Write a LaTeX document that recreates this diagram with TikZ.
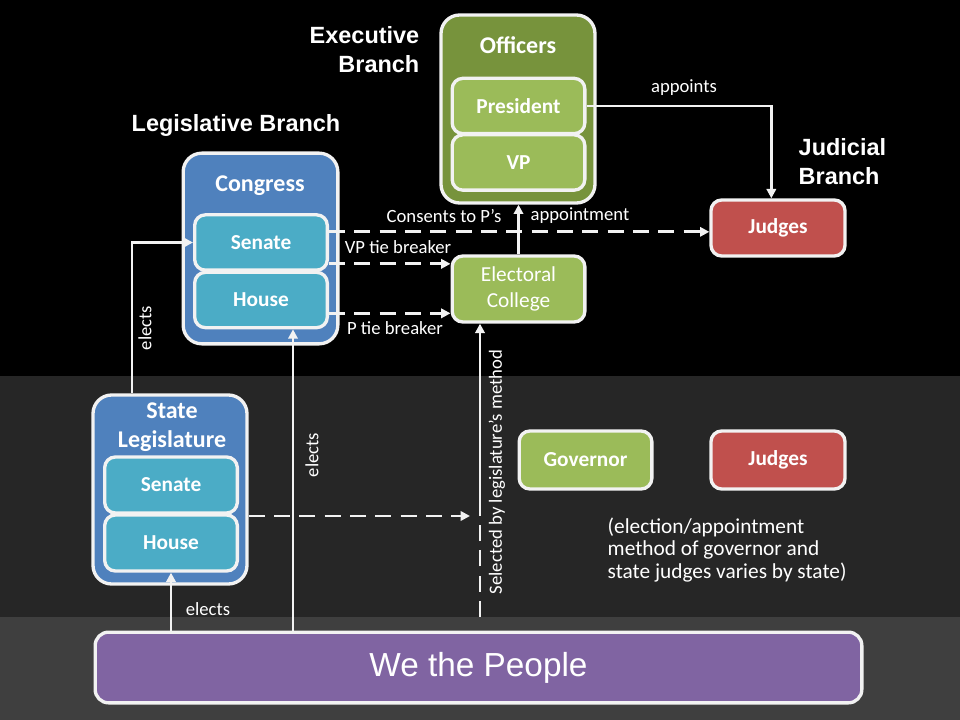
\documentclass[tikz,border=0pt]{standalone}
\usepackage{fontspec}
\setmainfont{Carlito}
\newfontfamily\arialfont{Liberation Sans}
\usetikzlibrary{arrows.meta}
\definecolor{bandmid}{HTML}{262626}
\definecolor{bandlow}{HTML}{3F3F3F}
\definecolor{execdark}{HTML}{77933C}
\definecolor{execlight}{HTML}{9BBB59}
\definecolor{legdark}{HTML}{4F81BD}
\definecolor{leglight}{HTML}{4BACC6}
\definecolor{judred}{HTML}{C0504D}
\definecolor{peoplepurple}{HTML}{8064A2}
\definecolor{rim}{HTML}{F2F2F2}
\begin{document}
\begin{tikzpicture}[x=0.75pt,y=-0.75pt,
	outerbox/.style={draw=rim, line width=2.5pt, rounded corners=14pt, inner sep=0pt, minimum width=115.5pt},
	innerbox/.style={draw=rim, line width=2.5pt, rounded corners=8pt, inner sep=0pt, text=white, font=\bfseries\fontsize{16}{19}\selectfont, minimum width=99.5pt, minimum height=41.5pt},
	boxtitle/.style={text=white, font=\bfseries\fontsize{18}{21.75}\selectfont},
	branchtitle/.style={text=white, font=\arialfont\bfseries\fontsize{17.6}{21.75}\selectfont},
	lbl/.style={text=white, font=\fontsize{14}{17}\selectfont},
	arr/.style={draw=rim, line width=2pt, -{Triangle[length=7pt,width=7pt]}},
	dashline/.style={draw=rim, line width=2pt, dash pattern=on 12pt off 7pt},
	dasharr/.style={arr, dash pattern=on 12pt off 7pt}]
				\fill[black] (0,0) rectangle (960,376);
				\fill[bandmid] (0,376) rectangle (960,617);
				\fill[bandlow] (0,617) rectangle (960,720);
				% executive branch
				\node[branchtitle, anchor=east, align=right] (exectitle) at (424,50) {Executive\\Branch};
				\node[outerbox, fill=execdark, minimum height=141pt] (off) at (518,109) {};
				\node[boxtitle] (offtitle) at (518,45) {Officers};
				\node[innerbox, fill=execlight] (pres) at (518.5,106) {President};
				\node[innerbox, fill=execlight] (vp) at (518.5,162.5) {VP};
				\node[innerbox, fill=execlight, font=\fontsize{16}{19.5}\selectfont, align=center, minimum height=49.5pt] (ec) at (518.5,289) {Electoral\\College};
				% legislative branch
				\node[branchtitle] (legtitle) at (236,125) {Legislative Branch};
				\node[outerbox, fill=legdark, minimum width=116pt, minimum height=143pt] (cong) at (260.5,248.5) {};
				\node[boxtitle] (congtitle) at (260,186) {Congress};
				\node[innerbox, fill=leglight] (csen) at (261,242.5) {Senate};
				\node[innerbox, fill=leglight] (chouse) at (261,300) {House};
				% judicial branch
				\node[branchtitle, anchor=west, align=left] (judtitle) at (794,161.5) {Judicial\\Branch};
				\node[innerbox, fill=judred, minimum width=100.5pt, minimum height=42pt] (jt) at (778,228) {Judges};
				% states
				\node[outerbox, fill=legdark, minimum height=141.75pt] (sl) at (170,489.5) {};
				\node[boxtitle, align=center] (sltitle) at (172,427) {State\\Legislature};
				\node[innerbox, fill=leglight, minimum height=42pt] (ssen) at (171,485) {Senate};
				\node[innerbox, fill=leglight, minimum height=42pt] (shouse) at (171,543) {House};
				\node[innerbox, fill=execlight, minimum height=43.5pt] (gov) at (585.5,460) {Governor};
				\node[innerbox, fill=judred, minimum width=100.5pt, minimum height=43.5pt] (js) at (778,460) {Judges};
				\node[lbl, anchor=north west, align=left, font=\fontsize{16}{17}\selectfont] (note) at (603,513) {(election/appointment\\method of governor and\\state judges varies by state)};
				\node[innerbox, fill=peoplepurple, rounded corners=10pt, font=\arialfont\fontsize{25}{30}\selectfont, minimum width=575pt, minimum height=53pt] (people) at (478.5,667.5) {We the People};
				% connectors
				\draw[arr] (pres.east) -| ([xshift=-5pt]jt.north);
				\node[lbl] (applbl) at (684,88) {appoints};
				\coordinate (cons) at ([yshift=8pt]csen.east);
				\draw[dasharr] (cons) -- (cons -| jt.west);
				\node[lbl] (conslbl) at (444,216) {Consents to P’s};
				\node[lbl] (apptlbl) at (580,216) {appointment};
				\draw[arr] (ec.north) -- (ec.north |- off.south);
				\coordinate (vptie) at ([yshift=-16pt]csen.east);
				\draw[dasharr] (vptie) -- (vptie -| ec.west);
				\node[lbl] (vplbl) at (398,247) {VP tie breaker};
				\coordinate (ptie) at ([yshift=-10pt]chouse.east);
				\draw[dasharr] (ptie) -- (ptie -| ec.west);
				\node[lbl] (plbl) at (395,328) {P tie breaker};
				\draw[arr] (shouse.south |- people.north) -- (shouse.south);
				\node[lbl] (slelects) at (208,609) {elects};
				\coordinate (celect) at ([xshift=24pt]chouse.south);
				\draw[arr] (celect |- people.north) -- (celect);
				\node[lbl, rotate=90] (celects) at (312,455) {elects};
				\draw[arr] ([xshift=-28.5pt]sl.north) |- (csen.west);
				\node[lbl, rotate=90] (senelects) at (145,328) {elects};
				\coordinate (selend) at (470,516);
				\draw[dasharr] (sl.east |- selend) -- (selend);
				\coordinate (selbot) at (480,617);
				\coordinate (selmid) at (480,506);
				\draw[dashline] (selbot) -- (selmid);
				\draw[arr] (selmid) -- (selmid |- ec.south);
				\node[lbl, rotate=90] (sellbl) at (497,472) {Selected by legislature’s method};
\end{tikzpicture}
\end{document}
